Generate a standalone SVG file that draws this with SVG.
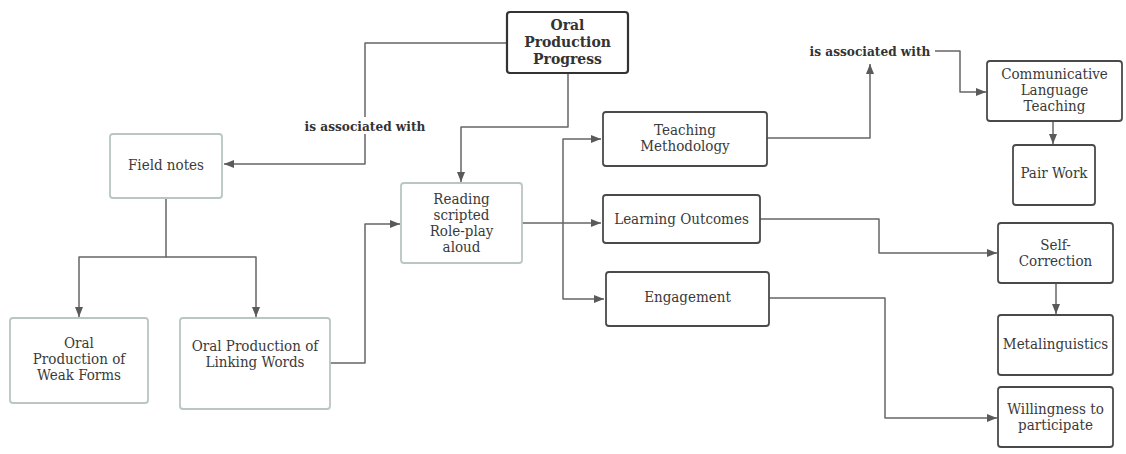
<svg xmlns="http://www.w3.org/2000/svg" width="1126" height="454" viewBox="0 0 1126 454">
<defs>
<style>
.dk{fill:#fff;stroke:#4a4a4a;stroke-width:1.8}
.lt{fill:#fff;stroke:#b9c6c3;stroke-width:1.8}
text{font-family:"DejaVu Serif",serif;font-stretch:condensed}
.t{font-size:15px;fill:#3a3a3a;text-anchor:middle}
.b{font-weight:bold;fill:#333;text-anchor:middle}
.c{fill:none;stroke:#666;stroke-width:1.5;stroke-linejoin:round}
</style>
<marker id="a" viewBox="0 0 10 10" refX="10" refY="5" markerWidth="10" markerHeight="10" markerUnits="userSpaceOnUse" orient="auto">
<path d="M0,1 L10,5 L0,9 Z" fill="#5a5a5a"/>
</marker>
</defs>
<rect width="1126" height="454" fill="#fff"/>
<g id="connectors">
<path class="c" d="M507,43 H365 V164 H224" marker-end="url(#a)"/>
<path class="c" d="M568,73 V127 H461 V182" marker-end="url(#a)"/>
<path class="c" d="M166,198 V257 H79 V317"  marker-end="url(#a)"/>
<path class="c" d="M166,257 H256 V317" marker-end="url(#a)"/>
<path class="c" d="M330,363 H365 V224 H400" marker-end="url(#a)"/>
<path class="c" d="M522,223 H601" marker-end="url(#a)"/>
<path class="c" d="M563,223 V139 H601" marker-end="url(#a)"/>
<path class="c" d="M563,223 V299 H604" marker-end="url(#a)"/>
<path class="c" d="M767,138 H870 V64" marker-end="url(#a)"/>
<path class="c" d="M935,51 H960 V92 H986" marker-end="url(#a)"/>
<path class="c" d="M1053,121 V144" marker-end="url(#a)"/>
<path class="c" d="M760,219 H879 V253 H997" marker-end="url(#a)"/>
<path class="c" d="M1056,283 V314" marker-end="url(#a)"/>
<path class="c" d="M769,298 H885 V418 H997" marker-end="url(#a)"/>
<rect x="305" y="117" width="119" height="17" fill="#fff"/>
<text class="b" x="365" y="131" font-size="13.5">is associated with</text>
<text class="b" x="870" y="56" font-size="13.5">is associated with</text>
</g>
<g id="opp">
<rect class="dk" x="507" y="12" width="121" height="61" rx="3" style="stroke-width:2.2;stroke:#333"/>
<text class="b" font-size="15.5"><tspan x="567.5" y="30">Oral</tspan><tspan x="567.5" y="47">Production</tspan><tspan x="567.5" y="64">Progress</tspan></text>
</g>
<g id="field-notes">
<rect class="lt" x="110" y="134" width="112" height="64" rx="3"/>
<text class="t" x="166" y="170">Field notes</text>
</g>
<g id="weak-forms">
<rect class="lt" x="10" y="318" width="138" height="85" rx="3"/>
<text class="t"><tspan x="79" y="348">Oral</tspan><tspan x="79" y="364">Production of</tspan><tspan x="79" y="380">Weak Forms</tspan></text>
</g>
<g id="linking-words">
<rect class="lt" x="180" y="318" width="150" height="91" rx="3"/>
<text class="t"><tspan x="255" y="351">Oral Production of</tspan><tspan x="255" y="367">Linking Words</tspan></text>
</g>
<g id="reading">
<rect class="lt" x="401" y="183" width="121" height="80" rx="3"/>
<text class="t"><tspan x="461.5" y="204">Reading</tspan><tspan x="461.5" y="220">scripted</tspan><tspan x="461.5" y="236">Role-play</tspan><tspan x="461.5" y="252">aloud</tspan></text>
</g>
<g id="teaching-methodology">
<rect class="dk" x="603" y="112" width="164" height="54" rx="3"/>
<text class="t"><tspan x="685" y="135">Teaching</tspan><tspan x="685" y="151">Methodology</tspan></text>
</g>
<g id="learning-outcomes">
<rect class="dk" x="603" y="195" width="157" height="48" rx="3"/>
<text class="t" x="681.5" y="224">Learning Outcomes</text>
</g>
<g id="engagement">
<rect class="dk" x="606" y="272" width="163" height="54" rx="3"/>
<text class="t" x="687.5" y="302">Engagement</text>
</g>
<g id="clt">
<rect class="dk" x="987" y="61" width="135" height="60" rx="3"/>
<text class="t"><tspan x="1054.5" y="79">Communicative</tspan><tspan x="1054.5" y="95">Language</tspan><tspan x="1054.5" y="111">Teaching</tspan></text>
</g>
<g id="pair-work">
<rect class="dk" x="1013" y="145" width="82" height="60" rx="3"/>
<text class="t" x="1054" y="178">Pair Work</text>
</g>
<g id="self-correction">
<rect class="dk" x="998" y="223" width="115" height="60" rx="3"/>
<text class="t"><tspan x="1055.5" y="250">Self-</tspan><tspan x="1055.5" y="266">Correction</tspan></text>
</g>
<g id="metalinguistics">
<rect class="dk" x="998" y="315" width="115" height="60" rx="3"/>
<text class="t" x="1055.5" y="349">Metalinguistics</text>
</g>
<g id="willingness">
<rect class="dk" x="998" y="387" width="115" height="60" rx="3"/>
<text class="t"><tspan x="1055.5" y="414">Willingness to</tspan><tspan x="1055.5" y="430">participate</tspan></text>
</g>
</svg>
